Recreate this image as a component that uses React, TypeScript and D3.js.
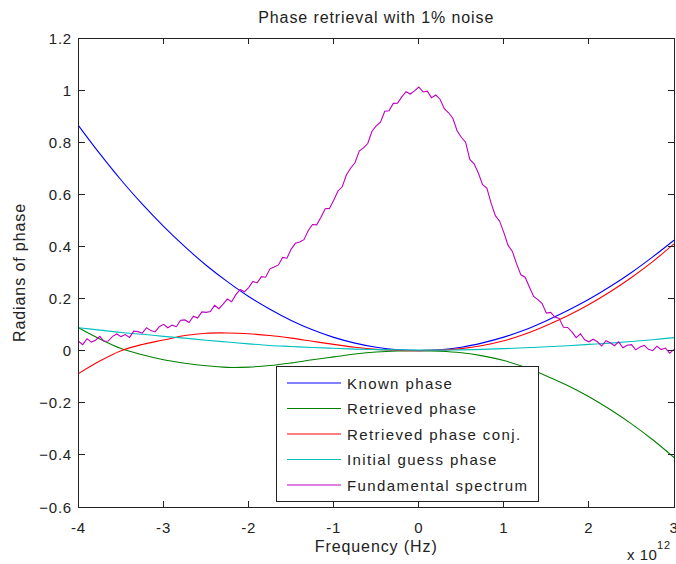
import React from "react";
import * as d3 from "d3";

// Frequency grid (units of 1e12 Hz) for the smooth phase curves
const phaseFreq = [
  -4, -3.75, -3.5, -3.25, -3, -2.75, -2.5, -2.25, -2, -1.75, -1.5, -1.25, -1, -0.75, -0.5, -0.25,
  0, 0.25, 0.5, 0.75, 1, 1.25, 1.5, 1.75, 2, 2.25, 2.5, 2.75, 3,
];

const knownPhase = [
  0.864, 0.756, 0.655, 0.562, 0.477, 0.399, 0.328, 0.265, 0.208, 0.159, 0.116, 0.08, 0.051, 0.029, 0.013, 0.003,
  0, 0.003, 0.013, 0.03, 0.052, 0.08, 0.115, 0.154, 0.197, 0.246, 0.3, 0.36, 0.424,
];

const retrievedPhase = [
  0.088, 0.045, 0.008, -0.016, -0.035, -0.048, -0.058, -0.064, -0.063, -0.057, -0.047, -0.035, -0.024, -0.013, -0.005, -0.001,
  0, -0.002, -0.008, -0.02, -0.038, -0.064, -0.097, -0.134, -0.177, -0.226, -0.281, -0.342, -0.41,
];

const retrievedConj = [
  -0.088, -0.04, 0.0, 0.024, 0.041, 0.058, 0.067, 0.068, 0.065, 0.058, 0.048, 0.036, 0.024, 0.013, 0.005, 0.001,
  0, 0.002, 0.008, 0.02, 0.038, 0.064, 0.097, 0.134, 0.177, 0.226, 0.281, 0.342, 0.41,
];

const initialGuess = [
  0.088, 0.079, 0.07, 0.063, 0.055, 0.048, 0.04, 0.033, 0.026, 0.02, 0.016, 0.012, 0.009, 0.006, 0.004, 0.003,
  0.002, 0.002, 0.003, 0.005, 0.008, 0.011, 0.015, 0.019, 0.024, 0.029, 0.035, 0.042, 0.05,
];

// Measured fundamental spectrum, sampled every 0.05e12 Hz from -4e12 to 3e12
const spectrumStart = -4;
const spectrumStep = 0.05;
const spectrum = [
  0.036, 0.023, 0.046, 0.033, 0.04, 0.055, 0.036, 0.037, 0.055, 0.064,
  0.054, 0.062, 0.051, 0.075, 0.073, 0.067, 0.088, 0.077, 0.072, 0.092,
  0.101, 0.088, 0.098, 0.092, 0.117, 0.118, 0.108, 0.132, 0.125, 0.149,
  0.147, 0.15, 0.174, 0.161, 0.179, 0.198, 0.188, 0.215, 0.235, 0.226,
  0.242, 0.266, 0.26, 0.284, 0.282, 0.314, 0.321, 0.329, 0.358, 0.355,
  0.39, 0.412, 0.417, 0.426, 0.46, 0.484, 0.483, 0.512, 0.545, 0.546,
  0.577, 0.613, 0.629, 0.675, 0.701, 0.721, 0.766, 0.778, 0.795, 0.842,
  0.863, 0.877, 0.919, 0.921, 0.949, 0.95, 0.974, 0.994, 0.985, 0.997,
  1.012, 0.993, 0.996, 0.971, 0.981, 0.965, 0.929, 0.913, 0.892, 0.844,
  0.819, 0.8, 0.734, 0.717, 0.682, 0.637, 0.624, 0.566, 0.518, 0.497,
  0.453, 0.404, 0.381, 0.333, 0.291, 0.282, 0.244, 0.208, 0.196, 0.181,
  0.144, 0.147, 0.129, 0.124, 0.09, 0.089, 0.072, 0.05, 0.065, 0.042,
  0.034, 0.044, 0.034, 0.018, 0.038, 0.03, 0.019, 0.034, 0.011, 0.021,
  0.023, 0.003, 0.014, 0.02, 0.005, 0.0, 0.017, 0.004, 0.01, -0.01,
  0.005,
];

const xTicks = [-4, -3, -2, -1, 0, 1, 2, 3];
const yTicks = [-0.6, -0.4, -0.2, 0, 0.2, 0.4, 0.6, 0.8, 1, 1.2];

const legendLabels = [
  "Known phase",
  "Retrieved phase",
  "Retrieved phase conj.",
  "Initial guess phase",
  "Fundamental spectrum",
];
const seriesColors = ["#0000ff", "#008000", "#ff0000", "#00bfbf", "#bf00bf"];

const W = 676;
const H = 564;
const plot = { left: 78.5, right: 674, top: 38, bottom: 507 };
const FONT = "'Liberation Sans', Arial, Helvetica, sans-serif";

export default function App() {
  const x = d3.scaleLinear().domain([-4, 3]).range([plot.left, plot.right]);
  const y = d3.scaleLinear().domain([-0.6, 1.2]).range([plot.bottom, plot.top]);

  const smooth = d3
    .line<[number, number]>()
    .x((d) => x(d[0]))
    .y((d) => y(d[1]))
    .curve(d3.curveCatmullRom);
  const raw = d3
    .line<[number, number]>()
    .x((d) => x(d[0]))
    .y((d) => y(d[1]));

  const pairs = (vals: number[]) => phaseFreq.map((f, i) => [f, vals[i]] as [number, number]);
  const spectrumPts = spectrum.map(
    (v, i) => [spectrumStart + i * spectrumStep, v] as [number, number]
  );

  const paths = [
    smooth(pairs(knownPhase)),
    smooth(pairs(retrievedPhase)),
    smooth(pairs(retrievedConj)),
    smooth(pairs(initialGuess)),
    raw(spectrumPts),
  ];

  const tickLen = 6;
  const legend = { x: 276, y: 366, w: 262, h: 135, rowY0: 383, rowGap: 25.5 };

  return (
    <svg
      width={W}
      height={H}
      style={{ position: "absolute", left: 0, top: 0, background: "#fff" }}
      fontFamily={FONT}
    >
      <rect x={0} y={0} width={W} height={H} fill="#fff" />
      <defs>
        <clipPath id="plotClip">
          <rect
            x={plot.left}
            y={plot.top}
            width={plot.right - plot.left}
            height={plot.bottom - plot.top}
          />
        </clipPath>
      </defs>

      {/* data lines */}
      <g clipPath="url(#plotClip)" fill="none" strokeWidth={1.1}>
        {paths.map((d, i) => (
          <path key={i} d={d || ""} stroke={seriesColors[i]} />
        ))}
      </g>

      {/* axes box */}
      <rect
        x={plot.left}
        y={plot.top}
        width={plot.right - plot.left}
        height={plot.bottom - plot.top}
        fill="none"
        stroke="#222"
        strokeWidth={1}
        shapeRendering="crispEdges"
      />

      {/* ticks on all four sides */}
      <g shapeRendering="crispEdges" stroke="#222">
        {xTicks.map((t) => (
          <g key={"xt" + t}>
            <line x1={x(t)} x2={x(t)} y1={plot.bottom} y2={plot.bottom - tickLen} />
            <line x1={x(t)} x2={x(t)} y1={plot.top} y2={plot.top + tickLen} />
          </g>
        ))}
        {yTicks.map((t) => (
          <g key={"yt" + t}>
            <line x1={plot.left} x2={plot.left + tickLen} y1={y(t)} y2={y(t)} />
            <line x1={plot.right} x2={plot.right - tickLen} y1={y(t)} y2={y(t)} />
          </g>
        ))}
      </g>
      <g fontSize={15} fill="#222" letterSpacing={0.8}>
        {xTicks.map((t) => (
          <text key={"xl" + t} x={x(t)} y={533} textAnchor="middle">
            {t}
          </text>
        ))}
        {yTicks.map((t) => (
          <text key={"yl" + t} x={72} y={y(t) + 5.5} textAnchor="end">
            {d3.format("~g")(+t.toFixed(1))}
          </text>
        ))}
        <text x={627} y={560} letterSpacing={0.5}>
          x 10
        </text>
        <text x={657} y={549} fontSize={11}>
          12
        </text>
      </g>

      {/* title and axis labels */}
      <g fontSize={16} fill="#222" letterSpacing={0.9}>
        <text x={(plot.left + plot.right) / 2} y={23} textAnchor="middle">
          Phase retrieval with 1% noise
        </text>
        <text x={(plot.left + plot.right) / 2} y={552} textAnchor="middle">
          Frequency (Hz)
        </text>
        <text
          transform={`translate(25, ${(plot.top + plot.bottom) / 2}) rotate(-90)`}
          textAnchor="middle"
        >
          Radians of phase
        </text>
      </g>

      {/* legend */}
      <g>
        <rect
          x={legend.x}
          y={legend.y}
          width={legend.w}
          height={legend.h}
          fill="#fff"
          stroke="#222"
          strokeWidth={1}
          shapeRendering="crispEdges"
        />
        {legendLabels.map((lab, i) => {
          const ry = legend.rowY0 + i * legend.rowGap;
          return (
            <g key={lab}>
              <line x1={287} x2={341} y1={ry} y2={ry} stroke={seriesColors[i]} strokeWidth={1.1} />
              <text x={347} y={ry + 5.5} fontSize={15} fill="#222" letterSpacing={1.4}>
                {lab}
              </text>
            </g>
          );
        })}
      </g>
    </svg>
  );
}
